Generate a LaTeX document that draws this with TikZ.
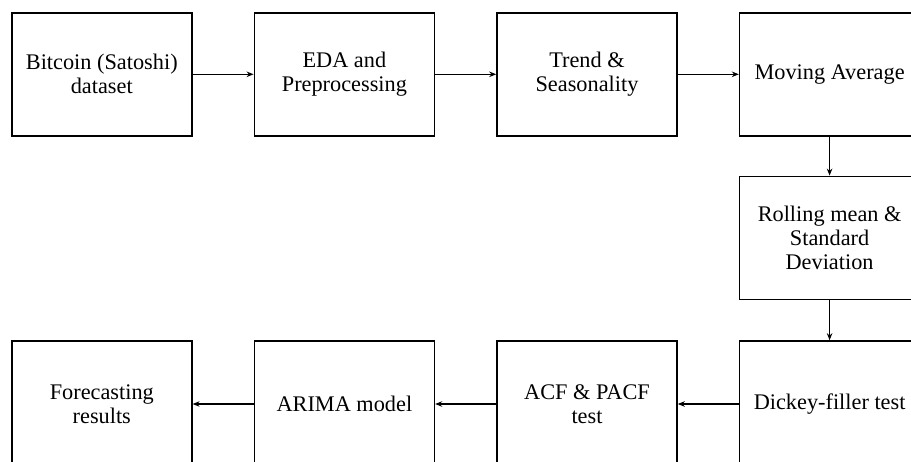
\documentclass[tikz,border=0pt]{standalone}
\usepackage{fontspec}
\setmainfont{Liberation Serif}
\usetikzlibrary{positioning,arrows.meta}

\begin{document}
\begin{tikzpicture}[x=1pt,y=1pt,
	stage/.style={draw,line width=1.6pt,minimum width=180pt,minimum height=123pt,align=center,inner sep=0pt,font=\fontsize{22.3}{24}\selectfont},
	flow/.style={-{Stealth[length=7pt,width=5.5pt]},line width=1.1pt}]
	\clip (0,0) rectangle (911,-461);
	
	\node[stage,anchor=north west] (data) at (11,-12) {Bitcoin (Satoshi)\\dataset};
	\node[stage,right=61pt of data] (eda) {EDA and\\Preprocessing};
	\node[stage,right=61pt of eda] (trend) {Trend \&\\Seasonality};
	\node[stage,right=61pt of trend] (avg) {Moving Average};
	\node[stage,below=39pt of avg] (roll) {Rolling mean \&\\Standard\\Deviation};
	\node[stage,below=40pt of roll,minimum height=126pt] (dickey) {Dickey-filler test};
	\node[stage,left=61pt of dickey,minimum height=126pt] (acf) {ACF \& PACF\\test};
	\node[stage,left=61pt of acf,minimum height=126pt] (arima) {ARIMA model};
	\node[stage,left=61pt of arima,minimum height=126pt] (result) {Forecasting\\results};
	
	\draw[flow] (data) -- (eda);
	\draw[flow] (eda) -- (trend);
	\draw[flow] (trend) -- (avg);
	\draw[flow] (avg) -- (roll);
	\draw[flow] (roll) -- (dickey);
	\draw[flow] (dickey) -- (acf);
	\draw[flow] (acf) -- (arima);
	\draw[flow] (arima) -- (result);
\end{tikzpicture}
\end{document}
